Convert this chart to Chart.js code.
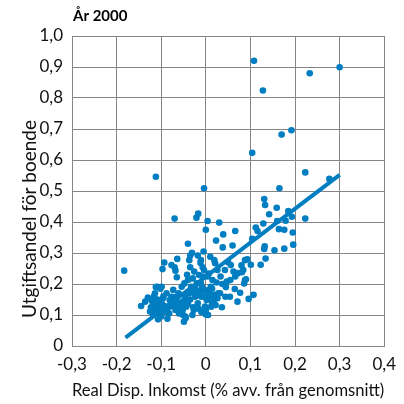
<!DOCTYPE html>
<html>
<head>
<meta charset="utf-8">
<script src="https://cdn.jsdelivr.net/npm/chart.js@4.4.1/dist/chart.umd.min.js"></script>
<style>
  html, body { margin: 0; padding: 0; background: #ffffff; }
  #wrap { width: 404px; height: 404px; }
</style>
</head>
<body>
<div id="wrap"><canvas id="c" width="404" height="404"></canvas></div>
<script>
// Real disposable income (deviation from mean) per municipality
const incomeDev = [
  0.108, 0.300, 0.233, 0.128, 0.192, 0.170, 0.104, -0.112, 0.223, 0.277,
  -0.004, 0.165, -0.183, -0.145, 0.223,
  0.131, 0.133, 0.159, 0.142, 0.185, 0.193, 0.179, 0.160, 0.129, 0.112,
  0.116, 0.164, 0.176, 0.195, 0.104, 0.196, 0.132, 0.131, 0.154, 0.176,
  0.134, 0.123, 0.101, 0.093, 0.088, 0.084, 0.081, 0.088, 0.086, 0.107,
  0.096, 0.071, 0.077, 0.065, 0.066, 0.056, 0.060, 0.066, 0.039, 0.030,
  0.004, 0.000, 0.023, 0.038, -0.017, -0.021, -0.070, -0.040,
  -0.005, -0.031, -0.035, -0.018, -0.064, -0.093, -0.097, -0.077, -0.070, -0.068,
  -0.065, -0.037, -0.011, -0.012, -0.035, -0.007, -0.004, 0.010, 0.019, 0.021,
  0.026, 0.043, 0.033, 0.047, 0.037, 0.055, 0.044, 0.054, 0.036, 0.026, 0.032,
  -0.130, -0.121, -0.114, -0.109, -0.099, -0.123, -0.114, -0.107, -0.103, -0.095,
  -0.090, -0.086, -0.085, -0.077, -0.073, -0.066, -0.062, -0.059, -0.055, -0.051,
  -0.049, -0.046, -0.044, -0.040, -0.037, -0.033, -0.030, -0.027, -0.024, -0.022,
  -0.020, -0.015, -0.018, -0.010, -0.005, -0.002, 0.000, 0.005, 0.002, 0.008,
  0.011, 0.015, 0.018, 0.022, 0.012, -0.118, -0.107, -0.099, -0.082, -0.074,
  -0.068, -0.125, -0.136, -0.081, -0.088, -0.096, -0.061, -0.054, -0.048, -0.040,
  -0.029, -0.011, -0.007, 0.004, 0.007,
  -0.112, -0.105, -0.098, -0.092, -0.108, -0.118, -0.086, -0.078, -0.070, -0.064,
  -0.058, -0.050, -0.046, -0.040, -0.035, -0.030, -0.025, -0.020, -0.014, -0.008,
  -0.004, 0.003, 0.010, 0.014, 0.020, 0.028, -0.016, -0.010, 0.000, -0.028,
  -0.052, -0.060, -0.045, -0.100, -0.108, -0.095, -0.102, -0.112, -0.116,
  0.014, 0.024, 0.045, 0.062, 0.072, 0.080, 0.090, 0.050, -0.026, -0.042
];

// Housing expenditure share, same order as incomeDev
const housingShare = [
  0.920, 0.899, 0.880, 0.824, 0.696, 0.682, 0.623, 0.546, 0.560, 0.539,
  0.509, 0.509, 0.243, 0.129, 0.411,
  0.474, 0.455, 0.446, 0.425, 0.435, 0.417, 0.404, 0.403, 0.395, 0.382,
  0.371, 0.377, 0.375, 0.366, 0.346, 0.327, 0.322, 0.313, 0.309, 0.314,
  0.282, 0.262, 0.262, 0.280, 0.277, 0.245, 0.238, 0.213, 0.202, 0.165,
  0.152, 0.143, 0.172, 0.184, 0.224, 0.261, 0.324, 0.371, 0.360, 0.398,
  0.403, 0.375, 0.340, 0.318, 0.427, 0.414, 0.411, 0.330,
  0.305, 0.301, 0.292, 0.292, 0.281, 0.269, 0.248, 0.261, 0.254, 0.243,
  0.222, 0.277, 0.277, 0.268, 0.254, 0.254, 0.245, 0.288, 0.277, 0.267,
  0.245, 0.245, 0.224, 0.208, 0.200, 0.213, 0.159, 0.159, 0.125, 0.154, 0.170,
  0.156, 0.146, 0.170, 0.191, 0.191, 0.125, 0.116, 0.086, 0.138, 0.118,
  0.111, 0.088, 0.127, 0.159, 0.181, 0.159, 0.138, 0.111, 0.127, 0.100,
  0.078, 0.095, 0.127, 0.148, 0.170, 0.191, 0.100, 0.116, 0.159, 0.181,
  0.202, 0.229, 0.138, 0.159, 0.181, 0.127, 0.102, 0.100, 0.148, 0.170,
  0.191, 0.213, 0.148, 0.132, 0.127, 0.100, 0.116, 0.105, 0.105, 0.132,
  0.116, 0.111, 0.143, 0.148, 0.170, 0.154, 0.170, 0.191, 0.202, 0.213,
  0.218, 0.202, 0.224, 0.224, 0.234,
  0.130, 0.125, 0.135, 0.128, 0.150, 0.140, 0.120, 0.128, 0.135, 0.125,
  0.140, 0.145, 0.160, 0.135, 0.150, 0.175, 0.190, 0.165, 0.175, 0.190,
  0.160, 0.180, 0.160, 0.140, 0.165, 0.170, 0.120, 0.110, 0.115, 0.125,
  0.115, 0.105, 0.090, 0.095, 0.108, 0.160, 0.185, 0.190, 0.160,
  0.185, 0.205, 0.190, 0.240, 0.235, 0.260, 0.215, 0.270, 0.240, 0.230
];

// Fitted regression line end points
const fitX = [-0.18, 0.30];
const fitY = [0.027, 0.552];

// Axis tick labels (Swedish decimal comma)
const xTickLabels = ['-0,3', '-0,2', '-0,1', '0', '0,1', '0,2', '0,3', '0,4'];
const yTickLabels = ['0', '0,1', '0,2', '0,3', '0,4', '0,5', '0,6', '0,7', '0,8', '0,9', '1,0'];

const chartTitle = 'År 2000';
const xTitle = 'Real Disp. Inkomst (% avv. från genomsnitt)';
const yTitle = 'Utgiftsandel för boende';

const BLUE = 'rgb(0,126,193)';
const GRID = '#858585';
const FONT = 'Lato';
const TEXT_SIZE = 17;

const scatterPoints = incomeDev.map((x, i) => ({ x: x, y: housingShare[i] }));
const fitPoints = fitX.map((x, i) => ({ x: x, y: fitY[i] }));

// Chart heading in the top-left corner and the rotated y-axis caption
const captionPlugin = {
  id: 'captions',
  afterDraw(chart) {
    const ctx = chart.ctx;
    const area = chart.chartArea;
    ctx.save();
    ctx.font = 'bold 15px ' + FONT;
    ctx.fillStyle = '#000';
    ctx.textAlign = 'left';
    ctx.textBaseline = 'alphabetic';
    ctx.fillText(chartTitle, area.left + 1, 21);

    ctx.translate(30, (area.top + area.bottom) / 2 + 28);
    ctx.rotate(-Math.PI / 2);
    ctx.font = '19px ' + FONT;
    ctx.fillStyle = '#111';
    ctx.textAlign = 'center';
    ctx.textBaseline = 'middle';
    ctx.fillText(yTitle, 0, 0);
    ctx.restore();
  }
};

new Chart(document.getElementById('c'), {
  data: {
    datasets: [
      {
        type: 'line',
        data: fitPoints,
        borderColor: BLUE,
        borderWidth: 4,
        pointRadius: 0,
        fill: false,
        order: 0
      },
      {
        type: 'scatter',
        data: scatterPoints,
        backgroundColor: BLUE,
        borderWidth: 0,
        pointRadius: 3.3,
        order: 1
      }
    ]
  },
  options: {
    responsive: false,
    animation: false,
    devicePixelRatio: 1,
    layout: { padding: { top: 36, right: 14, bottom: 0, left: 0 } },
    plugins: {
      legend: { display: false },
      tooltip: { enabled: false },
      title: { display: false }
    },
    scales: {
      x: {
        type: 'linear',
        min: -0.3,
        max: 0.4,
        afterFit(scale) { scale.height = 58; },
        ticks: {
          stepSize: 0.1,
          padding: 8,
          maxRotation: 0,
          color: '#111',
          font: { family: FONT, size: TEXT_SIZE },
          callback: (v) => xTickLabels[Math.round((v + 0.3) * 10)]
        },
        grid: { color: GRID, lineWidth: 1, drawTicks: false },
        border: { display: true, color: GRID, width: 1 },
        title: {
          display: true,
          text: xTitle,
          color: '#111',
          font: { family: FONT, size: TEXT_SIZE },
          padding: { top: 0, bottom: 3 }
        }
      },
      y: {
        type: 'linear',
        min: 0,
        max: 1.0,
        afterFit(scale) { scale.width = 72; },
        ticks: {
          stepSize: 0.1,
          padding: 9,
          color: '#111',
          font: { family: FONT, size: TEXT_SIZE },
          callback: (v) => yTickLabels[Math.round(v * 10)]
        },
        grid: { color: GRID, lineWidth: 1, drawTicks: false },
        border: { display: true, color: GRID, width: 1 }
      }
    }
  },
  plugins: [captionPlugin]
});
</script>
</body>
</html>
